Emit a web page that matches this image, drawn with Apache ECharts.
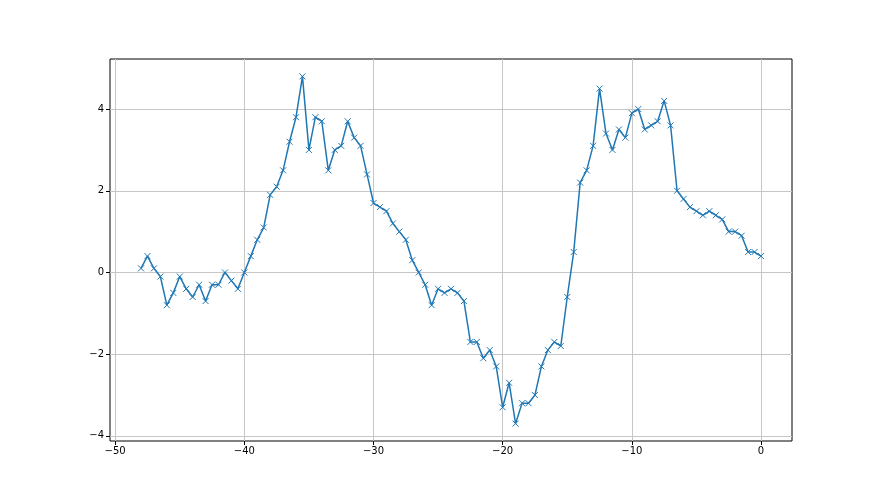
<!DOCTYPE html>
<html><head><meta charset="utf-8">
<script src="https://cdn.jsdelivr.net/npm/echarts@6/dist/echarts.min.js"></script>
<style>html,body{margin:0;padding:0;background:#fff}#c{width:880px;height:495px}</style>
</head><body><div id="c"></div>
<script>
var xStart = -48, xStep = 0.5;
var yValues = [0.1,0.4,0.1,-0.1,-0.8,-0.5,-0.1,-0.4,-0.6,-0.3,-0.7,-0.3,-0.3,0,-0.2,-0.4,0,0.4,0.8,1.1,
1.9,2.1,2.5,3.2,3.8,4.8,3.0,3.8,3.7,2.5,3.0,3.1,3.7,3.3,3.1,2.4,1.7,1.6,1.5,1.2,
1.0,0.8,0.3,0,-0.3,-0.8,-0.4,-0.5,-0.4,-0.5,-0.7,-1.7,-1.7,-2.1,-1.9,-2.3,-3.3,-2.7,-3.7,-3.2,
-3.2,-3.0,-2.3,-1.9,-1.7,-1.8,-0.6,0.5,2.2,2.5,3.1,4.5,3.4,3.0,3.5,3.3,3.9,4.0,3.5,3.6,
3.7,4.2,3.6,2.0,1.8,1.6,1.5,1.4,1.5,1.4,1.3,1.0,1.0,0.9,0.5,0.5,0.4];
var xTicks = [-50,-40,-30,-20,-10,0];
var yTicks = [-4,-2,0,2,4];

var data = yValues.map(function(v,i){return [xStart + i*xStep, v];});
function fmt(v){ return v < 0 ? '\u2212' + Math.abs(v) : String(v); }
var chart = echarts.init(document.getElementById('c'));
chart.setOption({
  animation:false,
  grid:{left:110,right:88,top:59,bottom:54,show:true,borderColor:'#000',borderWidth:1,backgroundColor:'transparent'},
  xAxis:{type:'value',min:-50.4,max:2.4,
    axisLine:{show:false,onZero:false},
    axisTick:{show:true,length:4,inside:false,customValues:xTicks,lineStyle:{color:'#000',width:1}},
    axisLabel:{customValues:xTicks,formatter:fmt,color:'#000',fontSize:10,fontFamily:'DejaVu Sans',margin:5,showMinLabel:true,showMaxLabel:true},
    splitLine:{show:true,lineStyle:{color:'#c6c6c6',width:1}}},
  yAxis:{type:'value',min:-4.125,max:5.225,
    axisLine:{show:false,onZero:false},
    axisTick:{show:true,length:4,inside:false,customValues:yTicks,lineStyle:{color:'#000',width:1}},
    axisLabel:{customValues:yTicks,formatter:fmt,color:'#000',fontSize:10,fontFamily:'DejaVu Sans',margin:6},
    splitLine:{show:true,lineStyle:{color:'#c6c6c6',width:1}}},
  series:[{type:'line',data:data,
    lineStyle:{color:'#1f77b4',width:1.5},
    symbol:'path://M0,0L10,10M10,0L0,10',symbolSize:6,showAllSymbol:true,
    itemStyle:{color:'#1f77b4',borderColor:'#1f77b4',borderWidth:1}}]
});
</script></body></html>
